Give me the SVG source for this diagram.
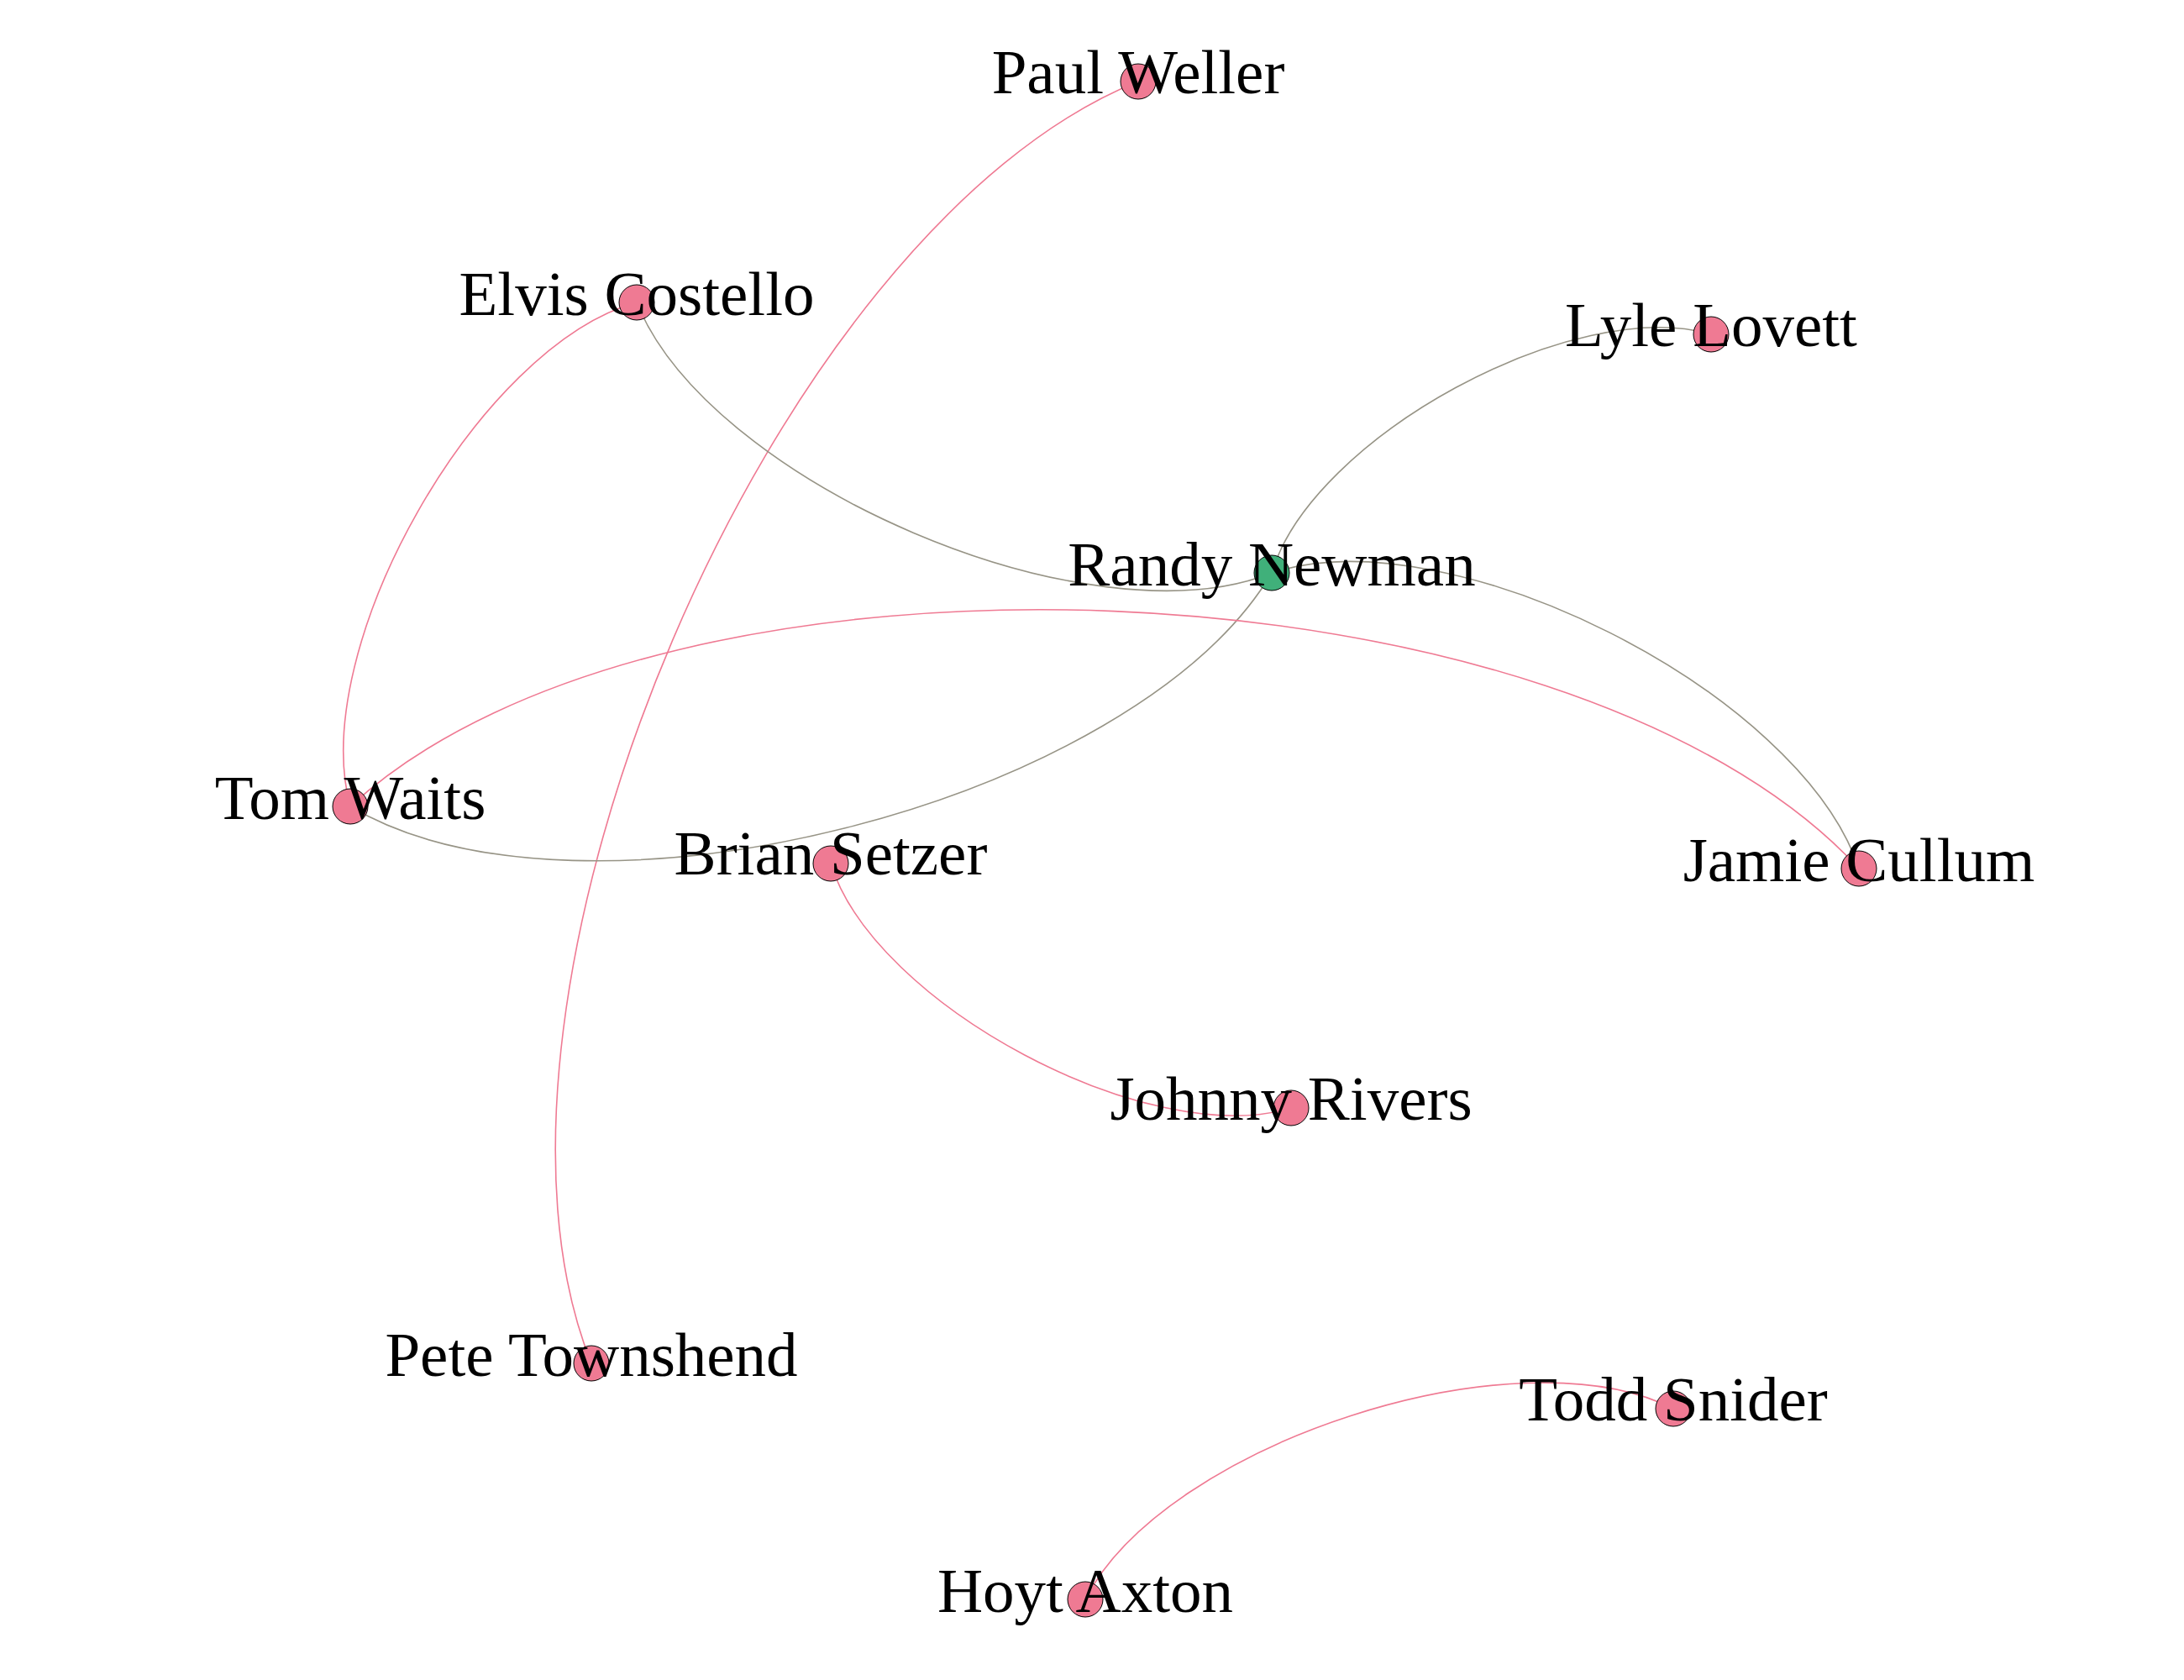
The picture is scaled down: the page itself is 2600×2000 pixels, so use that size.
<svg xmlns="http://www.w3.org/2000/svg" width="2600" height="2000" viewBox="0 0 2600 2000">
<style>
.e{fill:none;stroke-width:1.6}
.p{stroke:#ef7a93}
.g{stroke:#979486}
.n{stroke:#000;stroke-width:1}
.pk{fill:#ef7a93}
.gr{fill:#40b07a}
text{font-family:"Liberation Serif","Times New Roman",serif;font-size:75px;fill:#000;text-anchor:middle}
</style>
<rect width="2600" height="2000" fill="#fff"/>
<g id="edges">
<path class="e p" d="M704,1623 C529,1187.6 919.6,272 1355,97"/>
<path class="e p" d="M417,960 C365.2,771.8 569.8,411.8 758,360"/>
<path class="e g" d="M1514,682 C1298.4,768.8 844.8,575.6 758,360"/>
<path class="e g" d="M1514,682 C1561.8,520.6 1875.6,350.2 2037,398"/>
<path class="e g" d="M1514,682 C1724.2,612.6 2143.6,823.8 2213,1034"/>
<path class="e g" d="M1514,682 C1350.2,957 692,1123.8 417,960"/>
<path class="e p" d="M417,960 C791,615.6 1868.6,660 2213,1034"/>
<path class="e p" d="M1537,1319 C1369.2,1370.4 1040.4,1195.8 989,1028"/>
<path class="e p" d="M1292,1904 C1386.6,1718.6 1806.6,1582.4 1992,1677"/>
</g>
<g id="paul-weller"><circle class="n pk" cx="1355" cy="97" r="21"/><text x="1355" y="111">Paul Weller</text></g>
<g id="elvis-costello"><circle class="n pk" cx="758" cy="360" r="21"/><text x="758" y="375">Elvis Costello</text></g>
<g id="lyle-lovett"><circle class="n pk" cx="2037" cy="398" r="21"/><text x="2037" y="412">Lyle Lovett</text></g>
<g id="randy-newman"><circle class="n gr" cx="1514" cy="682" r="21"/><text x="1514" y="697">Randy Newman</text></g>
<g id="tom-waits"><circle class="n pk" cx="417" cy="960" r="21"/><text x="417" y="975">Tom Waits</text></g>
<g id="brian-setzer"><circle class="n pk" cx="989" cy="1028" r="21"/><text x="989" y="1041">Brian Setzer</text></g>
<g id="jamie-cullum"><circle class="n pk" cx="2213" cy="1034" r="21"/><text x="2213" y="1049">Jamie Cullum</text></g>
<g id="johnny-rivers"><circle class="n pk" cx="1537" cy="1319" r="21"/><text x="1537" y="1333">Johnny Rivers</text></g>
<g id="pete-townshend"><circle class="n pk" cx="704" cy="1623" r="21"/><text x="704" y="1638">Pete Townshend</text></g>
<g id="todd-snider"><circle class="n pk" cx="1992" cy="1677" r="21"/><text x="1992" y="1691">Todd Snider</text></g>
<g id="hoyt-axton"><circle class="n pk" cx="1292" cy="1904" r="21"/><text x="1292" y="1919">Hoyt Axton</text></g>
</svg>
